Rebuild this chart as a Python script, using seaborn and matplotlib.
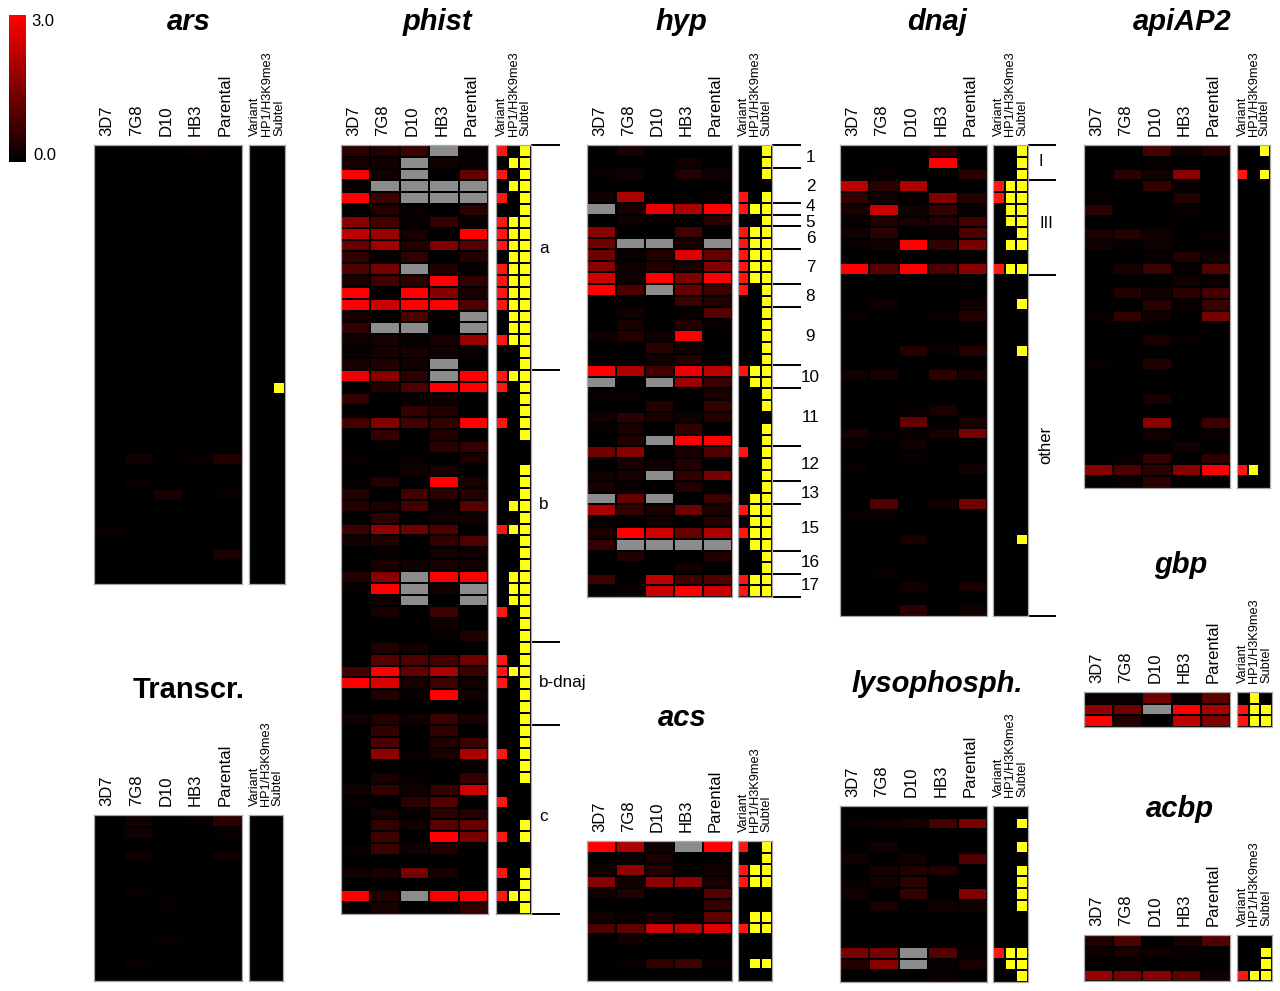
import matplotlib

matplotlib.use("Agg")

import matplotlib.pyplot as plt
import numpy as np
import seaborn as sns
from matplotlib.colors import LinearSegmentedColormap, ListedColormap
from matplotlib.transforms import ScaledTranslation

plt.rcParams["font.family"] = ["Liberation Sans", "DejaVu Sans"]

WIDTH, HEIGHT = 1280, 991

strains = ["3D7", "7G8", "D10", "HB3", "Parental"]
marks = ["Variant", "HP1/H3K9me3", "Subtel"]

# values are expression x10 (0-30), G = no data (grey cell)
G = np.nan
BLANK = [0, 0, 0, 0, 0]

ars_values = [
    [0, 0, 0, 1, 0], BLANK, BLANK, BLANK, BLANK, BLANK, BLANK, BLANK, BLANK, BLANK,
    BLANK, BLANK, BLANK, BLANK, BLANK, BLANK, BLANK, BLANK, BLANK, BLANK,
    BLANK, BLANK, BLANK, BLANK, BLANK, BLANK, [0, 2, 0, 1, 4], BLANK, [0, 1, 0, 0, 0],
    [0, 0, 3, 0, 1], BLANK, BLANK, [1, 0, 0, 0, 0], BLANK, [0, 0, 0, 0, 3], BLANK, BLANK,
]
ars_variant = []
ars_hp1 = []
ars_subtel = [20]

transcr_values = [
    [0, 2, 0, 1, 5], [0, 2, 0, 0, 1], BLANK, [0, 2, 0, 0, 2], BLANK, BLANK, [0, 1, 0, 0, 0],
    [0, 0, 1, 0, 0], BLANK, BLANK, [0, 0, 1, 0, 0], BLANK, [0, 1, 0, 0, 0], BLANK,
]
transcr_variant = []
transcr_hp1 = []
transcr_subtel = []

phist_values = [
    [5, 4, 7, G, 1], [3, 2, G, 2, 1], [30, 2, G, 0, 12], [1, G, G, G, G], [30, 7, G, G, G],
    [0, 4, 1, 0, 5], [16, 8, 1, 6, 1], [22, 18, 3, 0, 30], [12, 19, 4, 15, 10], [6, 1, 6, 0, 4],
    [9, 14, G, 4, 1], [3, 8, 5, 30, 6], [30, 0, 30, 15, 3], [30, 24, 30, 30, 9], [3, 0, 9, 1, G],
    [6, G, G, 0, G], [2, 3, 1, 3, 18], [1, 3, 3, 2, 1], [3, 4, 2, G, 0], [28, 16, 5, G, 30],
    [0, 4, 9, 30, 30], [6, 0, 1, 2, 0], [0, 0, 6, 4, 0], [8, 15, 8, 6, 30], [0, 6, 0, 4, 0],
    [0, 1, 0, 5, 6], [1, 0, 1, 0, 3], [0, 0, 2, 3, 0], [1, 4, 0, 30, 3], [4, 0, 8, 5, 4],
    [4, 3, 8, 1, 10], [0, 5, 0, 2, 2], [7, 17, 13, 9, 0], [2, 4, 0, 6, 9], [0, 1, 0, 2, 2],
    [0, 3, 2, 3, 2], [4, 16, G, 30, 30], [1, 30, G, 2, G], [0, 2, G, 0, G], [0, 3, 0, 7, 0],
    [0, 0, 0, 2, 0], [0, 0, 0, 1, 4], [0, 4, 2, 0, 0], [0, 10, 9, 8, 13], [8, 30, 12, 20, 7],
    [30, 26, 3, 7, 2], [0, 4, 1, 30, 2], BLANK, [2, 4, 2, 7, 3], [0, 6, 0, 6, 0],
    [0, 9, 0, 4, 7], [0, 17, 1, 3, 20], [0, 0, 0, 0, 1], [0, 3, 1, 0, 6], [2, 6, 2, 6, 24],
    [1, 0, 5, 10, 0], [0, 3, 1, 5, 4], [0, 6, 2, 10, 12], [0, 7, 0, 30, 14], [1, 7, 2, 4, 0],
    BLANK, [2, 3, 14, 3, 0], BLANK, [30, 4, G, 30, 30], [0, 3, 0, 1, 6],
]
phist_variant = [0, 2, 4, 6, 7, 8, 10, 11, 12, 13, 16, 19, 20, 23, 32, 39, 43, 44, 45, 51, 55, 58, 61, 63]
phist_hp1 = [1, 3, 6, 7, 8, 9, 10, 11, 12, 13, 14, 15, 16, 19, 30, 32, 36, 37, 38, 44, 63]
phist_subtel = [*range(0, 25), *range(27, 54), 57, 58, 61, 62, 63, 64]
phist_groups = [0, 19, 42, 49, 65]
phist_group_names = ["a", "b", "b-dnaj", "c"]
phist_group_rows = [8.75, 30.4, 45.4, 56.8]

hyp_values = [
    [0, 3, 0, 0, 0], [0, 0, 0, 2, 0], [1, 2, 0, 4, 2], BLANK, [2, 20, 0, 0, 1],
    [G, 3, 28, 20, 30], [0, 2, 1, 0, 5], [16, 0, 0, 8, 0], [13, G, G, 3, G], [13, 1, 4, 26, 12],
    [16, 2, 4, 3, 15], [24, 2, 30, 15, 30], [30, 9, G, 12, 7], [0, 0, 0, 7, 4], [0, 2, 0, 1, 10],
    [0, 3, 0, 4, 1], [2, 4, 2, 30, 0], [0, 0, 5, 2, 0], [1, 0, 2, 4, 0], [30, 20, 8, 28, 22],
    [G, 0, G, 18, 7], [1, 1, 0, 0, 3], [0, 0, 4, 0, 6], [2, 5, 3, 2, 4], [1, 3, 0, 6, 0],
    [0, 4, G, 30, 30], [13, 16, 0, 3, 9], [0, 3, 2, 4, 0], [2, 3, G, 6, 14], [3, 1, 0, 4, 0],
    [G, 12, G, 0, 7], [20, 6, 3, 13, 3], [1, 0, 2, 0, 4], [3, 30, 24, 12, 20], [6, G, G, G, G],
    [0, 4, 0, 0, 4], [0, 0, 0, 2, 0], [7, 0, 22, 7, 9], [0, 1, 24, 30, 24],
]
hyp_variant = [4, 5, 7, 8, 9, 10, 11, 12, 19, 26, 31, 33, 37, 38]
hyp_hp1 = [5, 7, 8, 9, 10, 11, 19, 20, 30, 31, 32, 33, 34, 37, 38]
hyp_subtel = [0, 1, 2, *range(4, 23), *range(24, 39)]
hyp_groups = [0, 2, 5, 6, 7, 9, 12, 14, 19, 21, 26, 29, 31, 35, 37, 39]
hyp_group_names = ["1", "2", "4", "5", "6", "7", "8", "9", "10", "11", "12", "13", "15", "16", "17"]
hyp_group_rows = [1.05, 3.55, 5.3, 6.65, 8.05, 10.55, 13.05, 16.55, 20.05, 23.55, 27.55, 30.05, 33.05, 36.05, 38.05]

dnaj_values = [
    [0, 0, 0, 4, 0], [0, 0, 0, 30, 0], [0, 1, 0, 0, 5], [22, 5, 20, 0, 0], [6, 2, 1, 15, 4],
    [3, 24, 2, 6, 1], [1, 4, 3, 4, 8], [2, 5, 0, 1, 9], [1, 2, 30, 6, 14], BLANK,
    [30, 10, 30, 9, 16], BLANK, BLANK, [0, 2, 0, 0, 2], [1, 0, 0, 1, 4],
    BLANK, BLANK, [0, 0, 4, 1, 4], BLANK, [2, 3, 0, 5, 3],
    BLANK, BLANK, [0, 0, 1, 3, 0], [0, 0, 12, 0, 3], [3, 1, 1, 3, 14],
    [1, 0, 2, 0, 0], [0, 0, 1, 0, 0], [1, 0, 0, 0, 2], BLANK, BLANK,
    [0, 9, 0, 2, 13], [1, 1, 0, 0, 0], BLANK, [0, 0, 3, 0, 0], BLANK,
    BLANK, [0, 1, 0, 0, 0], [0, 0, 2, 0, 3], BLANK, [0, 0, 5, 0, 2],
]
dnaj_variant = [3, 4, 10]
dnaj_hp1 = [3, 4, 5, 6, 8, 10]
dnaj_subtel = [0, 1, 2, 3, 4, 5, 6, 7, 8, 10, 13, 17, 33]
dnaj_groups = [0, 3, 11, 40]

apiap2_values = [
    [0, 0, 8, 2, 4], [0, 0, 1, 0, 0], [0, 5, 2, 16, 0], [0, 0, 6, 1, 0], [1, 0, 0, 4, 0],
    [5, 0, 0, 1, 0], BLANK, [3, 4, 2, 0, 1], [2, 1, 2, 0, 0], [0, 0, 1, 4, 2],
    [0, 3, 7, 1, 10], [0, 0, 0, 2, 1], [0, 4, 2, 5, 8], [0, 0, 5, 1, 7], [1, 6, 2, 0, 14],
    BLANK, [0, 0, 3, 1, 0], BLANK, [1, 0, 4, 0, 0], BLANK,
    BLANK, [0, 0, 3, 0, 0], BLANK, [0, 0, 16, 0, 7], [0, 0, 2, 0, 1],
    [0, 0, 0, 2, 0], [0, 1, 6, 0, 5], [16, 9, 5, 16, 30], [0, 1, 5, 0, 0],
]
apiap2_variant = [2, 27]
apiap2_hp1 = [27]
apiap2_subtel = [0, 2]

gbp_values = [[1, 1, 13, 1, 11], [17, 13, G, 30, 20], [30, 4, 0, 22, 15]]
gbp_variant = [1, 2]
gbp_hp1 = [0, 1, 2]
gbp_subtel = [1, 2]

acbp_values = [[4, 9, 0, 3, 10], [2, 3, 2, 1, 0], [0, 1, 0, 0, 0], [18, 14, 16, 11, 2]]
acbp_variant = [3]
acbp_hp1 = [3]
acbp_subtel = [1, 2, 3]

acs_values = [
    [30, 20, 2, G, 30], [0, 1, 3, 0, 0], [2, 17, 4, 0, 2], [16, 2, 17, 17, 3],
    [2, 4, 0, 0, 10], [0, 0, 0, 0, 6], [2, 1, 3, 0, 11], [9, 11, 24, 22, 26],
    [0, 2, 0, 0, 0], BLANK, [0, 1, 6, 7, 1], BLANK,
]
acs_variant = [0, 2, 3, 7]
acs_hp1 = [2, 3, 6, 7, 10]
acs_subtel = [0, 1, 2, 3, 6, 7, 10]

lyso_values = [
    BLANK, [1, 2, 3, 8, 14], BLANK, [0, 2, 0, 0, 0], [2, 0, 2, 0, 9],
    [0, 3, 4, 4, 0], [1, 2, 5, 0, 0], [2, 0, 6, 0, 15], [0, 3, 0, 2, 2], BLANK,
    BLANK, BLANK, [14, 14, G, 10, 1], [4, 16, G, 1, 3], [0, 0, 0, 1, 0],
]
lyso_variant = [12]
lyso_hp1 = [12, 13]
lyso_subtel = [1, 3, 5, 6, 7, 8, 12, 13, 14]

# layout in reference pixels: heatmap x0, x1, marks x0, x1, y0, y1
boxes = {
    "ars": (94, 242, 249, 285, 145, 584),
    "Transcr.": (94, 242, 249, 283, 815, 981),
    "phist": (341, 488, 496, 531, 145, 914),
    "hyp": (587, 732, 738, 772, 145, 597),
    "dnaj": (840, 987, 993, 1028, 145, 616),
    "apiAP2": (1084, 1230, 1237, 1270, 145, 488),
    "gbp": (1084, 1230, 1237, 1272, 692, 727),
    "acs": (587, 732, 738, 772, 841, 981),
    "lysophosph.": (840, 987, 993, 1028, 806, 982),
    "acbp": (1084, 1230, 1237, 1272, 935, 981),
}
titles = {
    "ars": (189, 22),
    "Transcr.": (189, 690),
    "phist": (437, 22),
    "hyp": (681, 22),
    "dnaj": (937, 22),
    "apiAP2": (1182, 22),
    "gbp": (1181, 565),
    "acs": (682, 718),
    "lysophosph.": (937, 684),
    "acbp": (1180, 809),
}

heat_cmap = LinearSegmentedColormap.from_list("black_red", ["#000000", "#ff0000"])
heat_cmap.set_bad("#8c8c8c")
mark_cmap = ListedColormap(["#000000", "#ff1414", "#ffff14"])
FRAME = "#a8a8a8"
CELL_GAP = 1.4


def px_axes(fig, x0, x1, y0, y1):
    return fig.add_axes([x0 / WIDTH, 1 - y1 / HEIGHT, (x1 - x0) / WIDTH, (y1 - y0) / HEIGHT])


def px_text(fig, x, y, text, **kwargs):
    fig.text(x / WIDTH, 1 - y / HEIGHT, text, ha="center", va="center", **kwargs)


def style_axes(ax, labelsize, shift_px=0):
    ax.xaxis.tick_top()
    ax.tick_params(axis="x", length=0, pad=6.5, labelrotation=90, labelsize=labelsize)
    ax.set_facecolor("black")
    for spine in ax.spines.values():
        spine.set_visible(True)
        spine.set_color(FRAME)
        spine.set_linewidth(0.9)
    # labels sit a little left of the column centres in the original
    offset = ScaledTranslation(shift_px / 100, 0, ax.figure.dpi_scale_trans)
    for label in ax.get_xticklabels():
        label.set_transform(label.get_transform() + offset)


def draw_panel(fig, name, values, variant, hp1, subtel):
    x0, x1, mx0, mx1, y0, y1 = boxes[name]
    ax = px_axes(fig, x0, x1, y0, y1)
    sns.heatmap(
        np.array(values, dtype=float) / 10,
        ax=ax,
        cmap=heat_cmap,
        vmin=0,
        vmax=3,
        cbar=False,
        linewidths=CELL_GAP,
        linecolor="black",
        xticklabels=strains,
        yticklabels=False,
    )
    style_axes(ax, 12, shift_px=-2)

    flags = np.zeros((len(values), 3))
    flags[variant, 0] = 1
    flags[hp1, 1] = 2
    flags[subtel, 2] = 2
    mark_ax = px_axes(fig, mx0, mx1, y0, y1)
    sns.heatmap(
        flags,
        ax=mark_ax,
        cmap=mark_cmap,
        vmin=0,
        vmax=2,
        cbar=False,
        linewidths=CELL_GAP,
        linecolor="black",
        xticklabels=marks,
        yticklabels=False,
    )
    style_axes(mark_ax, 9.2)

    tx, ty = titles[name]
    style = "normal" if name == "Transcr." else "italic"
    px_text(fig, tx, ty, name, fontsize=21, fontweight="bold", fontstyle=style)
    return mark_ax


def draw_brackets(mark_ax, name, edges, length):
    mx0, mx1 = boxes[name][2:4]
    per_px = 3 / (mx1 - mx0)
    mark_ax.hlines(edges, 3, 3 + length * per_px, color="black", linewidth=1.4, clip_on=False)


fig = plt.figure(figsize=(WIDTH / 100, HEIGHT / 100), dpi=100, facecolor="white")

ars_ax = draw_panel(fig, "ars", ars_values, ars_variant, ars_hp1, ars_subtel)
draw_panel(fig, "Transcr.", transcr_values, transcr_variant, transcr_hp1, transcr_subtel)
phist_ax = draw_panel(fig, "phist", phist_values, phist_variant, phist_hp1, phist_subtel)
hyp_ax = draw_panel(fig, "hyp", hyp_values, hyp_variant, hyp_hp1, hyp_subtel)
dnaj_ax = draw_panel(fig, "dnaj", dnaj_values, dnaj_variant, dnaj_hp1, dnaj_subtel)
draw_panel(fig, "apiAP2", apiap2_values, apiap2_variant, apiap2_hp1, apiap2_subtel)
draw_panel(fig, "gbp", gbp_values, gbp_variant, gbp_hp1, gbp_subtel)
draw_panel(fig, "acs", acs_values, acs_variant, acs_hp1, acs_subtel)
draw_panel(fig, "lysophosph.", lyso_values, lyso_variant, lyso_hp1, lyso_subtel)
draw_panel(fig, "acbp", acbp_values, acbp_variant, acbp_hp1, acbp_subtel)

draw_brackets(phist_ax, "phist", phist_groups, 29)
for label, row in zip(phist_group_names, phist_group_rows):
    phist_ax.text(3 + 8 * 3 / 35, row, label, fontsize=12.3, ha="left", va="center", clip_on=False)

draw_brackets(hyp_ax, "hyp", hyp_groups, 29)
for label, row in zip(hyp_group_names, hyp_group_rows):
    hyp_ax.text(3 + 38.5 * 3 / 34, row, label, fontsize=12.3, ha="center", va="center", clip_on=False)

draw_brackets(dnaj_ax, "dnaj", dnaj_groups, 28)
px_text(fig, 1041, 162, "I", fontsize=12)
px_text(fig, 1046, 223, "III", fontsize=12)
px_text(fig, 1046, 445, "other", fontsize=12, rotation=90)

# colour scale, taken from a heatmap mesh so it shares the cmap
scale_ax = px_axes(fig, 9, 26, 15, 162)
mesh = ars_ax.figure.axes[0].collections[0]
bar = fig.colorbar(mesh, cax=scale_ax, ticks=[])
bar.outline.set_visible(False)
px_text(fig, 43, 22, "3.0", fontsize=12)
px_text(fig, 45, 156, "0.0", fontsize=12)

fig.savefig("out.png", dpi=100)
plt.close(fig)
